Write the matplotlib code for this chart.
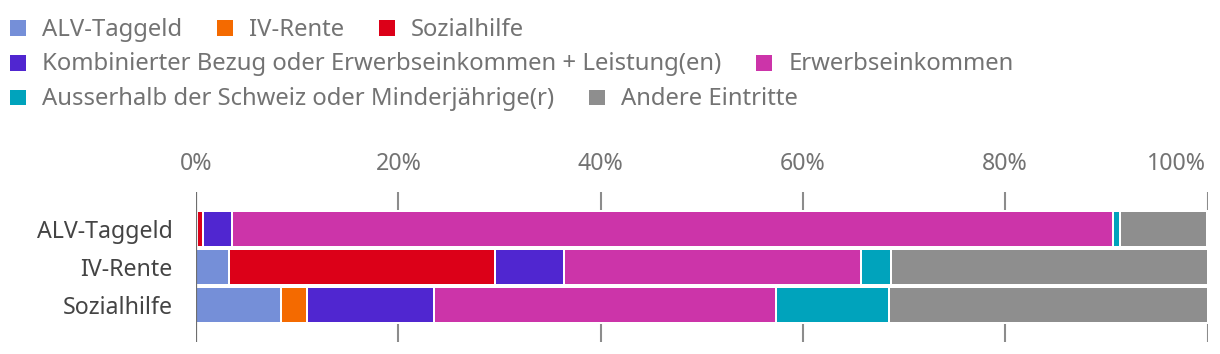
import matplotlib
matplotlib.use("Agg")
import matplotlib.pyplot as plt
from matplotlib.patches import Rectangle
from matplotlib.transforms import ScaledTranslation

# ---------------- data ----------------
categories = ["ALV-Taggeld", "IV-Rente", "Sozialhilfe"]
series_names = [
    "ALV-Taggeld",
    "IV-Rente",
    "Sozialhilfe",
    "Kombinierter Bezug oder Erwerbseinkommen + Leistung(en)",
    "Erwerbseinkommen",
    "Ausserhalb der Schweiz oder Minderjährige(r)",
    "Andere Eintritte",
]
alv_taggeld = [0.0, 3.2, 8.4]
iv_rente = [0.1, 0.0, 2.6]
sozialhilfe = [0.6, 26.3, 0.0]
kombiniert = [2.8, 6.9, 12.5]
erwerbseinkommen = [87.2, 29.3, 33.8]
ausserhalb = [0.6, 3.0, 11.2]
andere = [8.7, 31.3, 31.5]
xticks = [0, 20, 40, 60, 80, 100]
xtick_labels = ["0%", "20%", "40%", "60%", "80%", "100%"]

series_values = [alv_taggeld, iv_rente, sozialhilfe, kombiniert,
                 erwerbseinkommen, ausserhalb, andere]
colors = ["#758fd8", "#f46a00", "#dc0018", "#5026d0",
          "#cc34a9", "#00a3bc", "#8e8e8e"]

# legend rows (flow layout like reference)
legend_rows = [[0, 1, 2], [3, 4], [5, 6]]

# ---------------- figure ----------------
W, H = 1220, 354
plt.rcParams['font.family'] = ['Noto Sans', 'DejaVu Sans']
fig = plt.figure(figsize=(W / 100, H / 100), dpi=100)

def fx(px):
    return px / W

def fy(py):
    return 1 - py / H

x0, x1 = 196.2, 1207.5
ytop, ybot = 192, 342
ax = fig.add_axes([fx(x0), fy(ybot), fx(x1) - fx(x0), (ybot - ytop) / H])

ypos = list(range(len(categories)))
left = [0.0] * len(categories)
for vals, col, name in zip(series_values, colors, series_names):
    for i, v in enumerate(vals):
        if v > 0:
            ax.barh(ypos[i], v, left=left[i], height=0.947, color=col,
                    edgecolor="white", linewidth=1.44, zorder=2)
        left[i] += v

ax.set_xlim(0, 100)
ax.set_ylim(2.974, -0.974)
ax.set_yticks(ypos)
ax.set_yticklabels(categories, fontsize=16.7, color="#444444")
ax.set_xticks(xticks)
ax.set_xticklabels(xtick_labels, fontsize=16.7, color="#737373")
ax.xaxis.tick_top()
ax.tick_params(axis="x", length=0, pad=11.5)
ax.tick_params(axis="y", length=0, pad=17)
for s in ax.spines.values():
    s.set_visible(False)
last = ax.get_xticklabels()[-1]
last.set_ha("right")
last.set_transform(last.get_transform() + ScaledTranslation(-2 / 100, 0, fig.dpi_scale_trans))
for xv in xticks[1:]:
    ax.axvline(xv, color="#8c8c8c", lw=1.5, zorder=1)
ax.axvline(0, color="#6e6e6e", lw=1.6, zorder=3)

# ---------------- legend (manual flow layout) ----------------
fig.canvas.draw()
renderer = fig.canvas.get_renderer()
row_baselines = [35.5, 70.5, 105.5]
msize = 15.5
for r, row in enumerate(legend_rows):
    xc = 10
    base = row_baselines[r]
    for idx in row:
        fig.patches.append(Rectangle((fx(xc), fy(base)), msize / W, msize / H,
                                     transform=fig.transFigure, figure=fig,
                                     facecolor=colors[idx], edgecolor="none"))
        t = fig.text(fx(xc + 32), fy(base), series_names[idx], fontsize=17.2,
                     color="#737373", ha="left", va="baseline")
        bb = t.get_window_extent(renderer)
        xc = xc + 32 + bb.width + 35

fig.savefig("out.png", dpi=100)
